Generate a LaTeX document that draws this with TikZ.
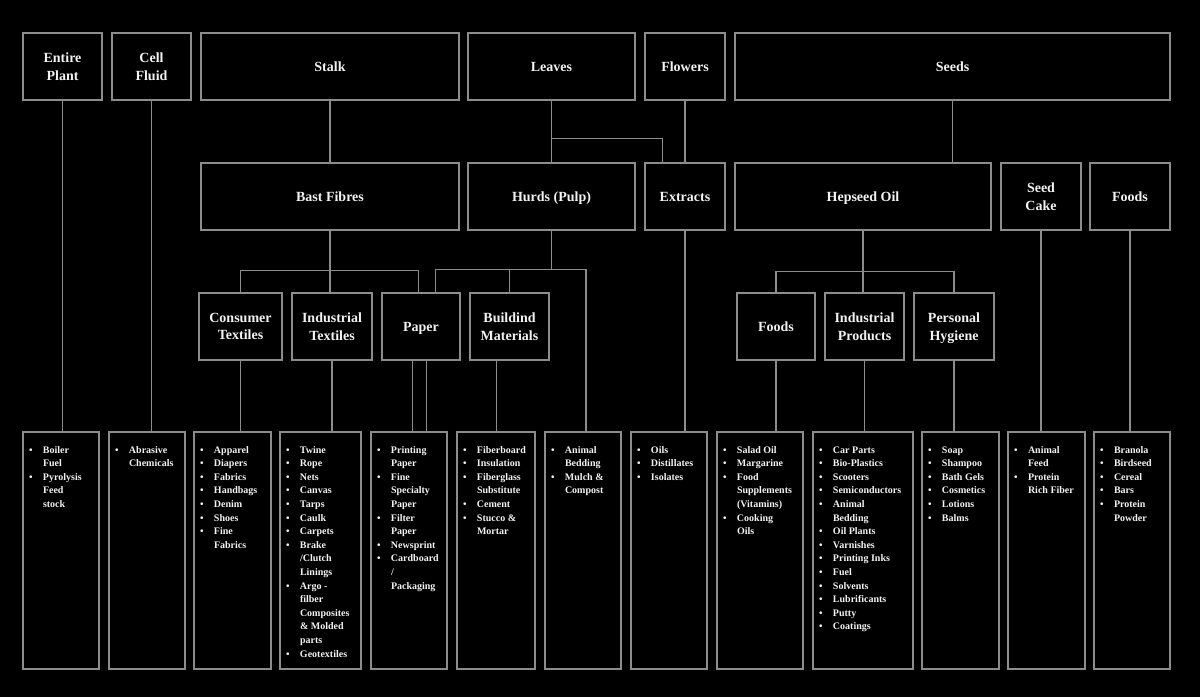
\documentclass[tikz,border=0pt]{standalone}
\usepackage{fontspec}
\setmainfont{Liberation Serif}
\usetikzlibrary{positioning}
\definecolor{linegray}{HTML}{8C8C8C}
\definecolor{inkwhite}{HTML}{F2F2F2}
\newcommand{\bul}{\textbullet}
\newcommand{\uses}[1]{\begin{tabular}{@{}p{14pt}@{}l@{}}#1\end{tabular}}

\begin{document}
\begin{tikzpicture}[x=1pt, y=-1pt, line width=1.3pt,
  part/.style={draw=linegray, text=inkwhite, align=center, inner sep=2pt, minimum height=67pt, text depth=0pt, font=\fontsize{14}{17.3}\selectfont\bfseries},
  usebox/.style={draw=linegray, minimum height=237pt, inner sep=0pt},
  uselist/.style={anchor=north west, text=inkwhite, inner sep=0pt, font=\fontsize{10}{13.6}\selectfont\bfseries},
  link/.style={draw=linegray}]
\fill[black] (0,0) rectangle (1200,697);
\node[part, minimum width=79pt]  (ent)     at (62.5,66.5)  {Entire\\Plant};
\node[part, minimum width=79pt]  (cell)    at (151.5,66.5) {Cell\\Fluid};
\node[part, minimum width=258pt] (stalk)   at (330,66.5)   {Stalk};
\node[part, minimum width=167pt] (leaves)  at (551.5,66.5) {Leaves};
\node[part, minimum width=80pt]  (flowers) at (685,66.5)   {Flowers};
\node[part, minimum width=435pt] (seeds)   at (952.5,66.5) {Seeds};
\node[part, minimum width=258pt] (bast)    at (330,196.5)   {Bast Fibres};
\node[part, minimum width=167pt] (hurds)   at (551.5,196.5) {Hurds (Pulp)};
\node[part, minimum width=80pt]  (extr)    at (685,196.5)   {Extracts};
\node[part, minimum width=256pt] (oil)     at (863,196.5)   {Hepseed Oil};
\node[part, minimum width=80pt]  (cake)    at (1041,196.5)  {Seed\\Cake};
\node[part, minimum width=80pt]  (sfoods)  at (1130,196.5)  {Foods};
\node[part, minimum width=83pt]  (ctex)    at (240.5,326.5) {Consumer\\Textiles};
\node[part, minimum width=80pt]  (itex)    at (332,326.5)   {Industrial\\Textiles};
\node[part, minimum width=78pt]  (paper)   at (421,326.5)   {Paper};
\node[part, minimum width=79pt]  (build)   at (509.5,326.5) {Buildind\\Materials};
\node[part, minimum width=78pt]  (ofoods)  at (776,326.5)   {Foods};
\node[part, minimum width=79pt]  (iprod)   at (864.5,326.5) {Industrial\\Products};
\node[part, minimum width=80pt]  (hyg)     at (954,326.5)   {Personal\\Hygiene};
\node[usebox, minimum width=76pt]  (u1)  at (61,550.5)   {};
\node[usebox, minimum width=76pt]  (u2)  at (147,550.5)  {};
\node[usebox, minimum width=77pt]  (u3)  at (232.5,550.5) {};
\node[usebox, minimum width=81pt]  (u4)  at (320.5,550.5) {};
\node[usebox, minimum width=76pt]  (u5)  at (409,550.5)  {};
\node[usebox, minimum width=78pt]  (u6)  at (496,550.5)  {};
\node[usebox, minimum width=76pt]  (u7)  at (583,550.5)  {};
\node[usebox, minimum width=76pt]  (u8)  at (669,550.5)  {};
\node[usebox, minimum width=86pt]  (u9)  at (760,550.5)  {};
\node[usebox, minimum width=100pt] (u10) at (863,550.5)  {};
\node[usebox, minimum width=77pt]  (u11) at (960.5,550.5) {};
\node[usebox, minimum width=77pt]  (u12) at (1046.5,550.5) {};
\node[usebox, minimum width=76pt]  (u13) at (1132,550.5) {};
\node[uselist] (t1) at ([xshift=6pt,yshift=-11.5pt]u1.north west) {\uses{\bul & Boiler\\ & Fuel\\ \bul & Pyrolysis\\ & Feed\\ & stock}};
\node[uselist] (t2) at ([xshift=6pt,yshift=-11.5pt]u2.north west) {\uses{\bul & Abrasive\\ & Chemicals}};
\node[uselist] (t3) at ([xshift=6pt,yshift=-11.5pt]u3.north west) {\uses{\bul & Apparel\\ \bul & Diapers\\ \bul & Fabrics\\ \bul & Handbags\\ \bul & Denim\\ \bul & Shoes\\ \bul & Fine\\ & Fabrics}};
\node[uselist] (t4) at ([xshift=6pt,yshift=-11.5pt]u4.north west) {\uses{\bul & Twine\\ \bul & Rope\\ \bul & Nets\\ \bul & Canvas\\ \bul & Tarps\\ \bul & Caulk\\ \bul & Carpets\\ \bul & Brake\\ & /Clutch\\ & Linings\\ \bul & Argo -\\ & filber\\ & Composites\\ & \& Molded\\ & parts\\ \bul & Geotextiles}};
\node[uselist] (t5) at ([xshift=6pt,yshift=-11.5pt]u5.north west) {\uses{\bul & Printing\\ & Paper\\ \bul & Fine\\ & Specialty\\ & Paper\\ \bul & Filter\\ & Paper\\ \bul & Newsprint\\ \bul & Cardboard\\ & /\\ & Packaging}};
\node[uselist] (t6) at ([xshift=6pt,yshift=-11.5pt]u6.north west) {\uses{\bul & Fiberboard\\ \bul & Insulation\\ \bul & Fiberglass\\ & Substitute\\ \bul & Cement\\ \bul & Stucco \&\\ & Mortar}};
\node[uselist] (t7) at ([xshift=6pt,yshift=-11.5pt]u7.north west) {\uses{\bul & Animal\\ & Bedding\\ \bul & Mulch \&\\ & Compost}};
\node[uselist] (t8) at ([xshift=6pt,yshift=-11.5pt]u8.north west) {\uses{\bul & Oils\\ \bul & Distillates\\ \bul & Isolates}};
\node[uselist] (t9) at ([xshift=6pt,yshift=-11.5pt]u9.north west) {\uses{\bul & Salad Oil\\ \bul & Margarine\\ \bul & Food\\ & Supplements\\ & (Vitamins)\\ \bul & Cooking\\ & Oils}};
\node[uselist] (t10) at ([xshift=6pt,yshift=-11.5pt]u10.north west) {\uses{\bul & Car Parts\\ \bul & Bio-Plastics\\ \bul & Scooters\\ \bul & Semiconductors\\ \bul & Animal\\ & Bedding\\ \bul & Oil Plants\\ \bul & Varnishes\\ \bul & Printing Inks\\ \bul & Fuel\\ \bul & Solvents\\ \bul & Lubrificants\\ \bul & Putty\\ \bul & Coatings}};
\node[uselist] (t11) at ([xshift=6pt,yshift=-11.5pt]u11.north west) {\uses{\bul & Soap\\ \bul & Shampoo\\ \bul & Bath Gels\\ \bul & Cosmetics\\ \bul & Lotions\\ \bul & Balms}};
\node[uselist] (t12) at ([xshift=6pt,yshift=-11.5pt]u12.north west) {\uses{\bul & Animal\\ & Feed\\ \bul & Protein\\ & Rich Fiber}};
\node[uselist] (t13) at ([xshift=6pt,yshift=-11.5pt]u13.north west) {\uses{\bul & Branola\\ \bul & Birdseed\\ \bul & Cereal\\ \bul & Bars\\ \bul & Protein\\ & Powder}};
\draw[link] (ent.south) -- (ent.south |- u1.north);
\draw[link] (cell.south) -- (cell.south |- u2.north);
\draw[link] (stalk.south) -- (bast.north);
\draw[link] (leaves.south) -- (hurds.north);
\draw[link] ([yshift=-38pt]leaves.south) -| ([xshift=18pt]extr.north west);
\draw[link] (flowers.south) -- (extr.north);
\draw[link] (extr.south) -- (extr.south |- u8.north);
\draw[link] (seeds.south) -- (seeds.south |- oil.north);
\draw[link] (cake.south) -- (cake.south |- u12.north);
\draw[link] (sfoods.south) -- (sfoods.south |- u13.north);
\coordinate (bj) at ([yshift=-40pt]bast.south);
\draw[link] (bast.south) -- (bast.south |- itex.north);
\draw[link] (ctex.north) |- (bj) -| ([xshift=37pt]paper.north west);
\coordinate (hj) at ([yshift=-39pt]hurds.south);
\draw[link] (hurds.south) -- (hj);
\draw[link] ([xshift=54pt]paper.north west) |- (hj) -| ([xshift=3pt]u7.north);
\draw[link] (build.north) -- (build.north |- hj);
\draw[link] (ctex.south) -- (ctex.south |- u3.north);
\draw[link] (itex.south) -- (itex.south |- u4.north);
\draw[link] ([xshift=31pt]paper.south west) -- ([xshift=31pt]paper.south west |- u5.north);
\draw[link] ([xshift=45pt]paper.south west) -- ([xshift=45pt]paper.south west |- u5.north);
\draw[link] ([xshift=27pt]build.south west) -- ([xshift=27pt]build.south west |- u6.north);
\coordinate (oj) at ([yshift=-41pt]oil.south);
\draw[link] (oil.south) -- (oil.south |- iprod.north);
\draw[link] (ofoods.north) |- (oj) -| (hyg.north);
\draw[link] (ofoods.south) -- (ofoods.south |- u9.north);
\draw[link] (iprod.south) -- (iprod.south |- u10.north);
\draw[link] (hyg.south) -- (hyg.south |- u11.north);
\end{tikzpicture}
\end{document}
